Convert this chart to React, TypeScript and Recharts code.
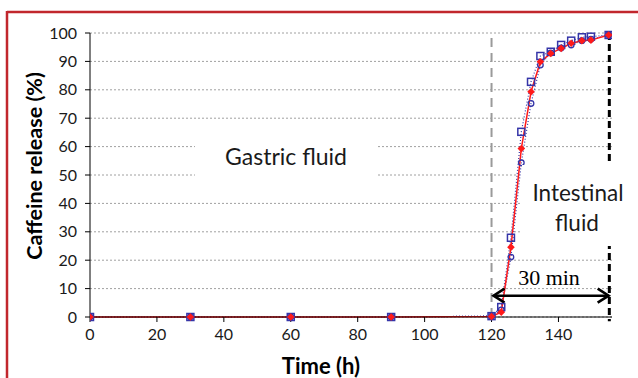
import React from 'react';
import { LineChart, Line, XAxis, YAxis, CartesianGrid, ReferenceLine } from 'recharts';

const timeH = [0, 30, 60, 90, 120, 122.9, 125.8, 128.9, 131.8, 134.6, 137.7, 140.8, 143.8, 147, 149.7, 155];
const releaseRed = [0, 0, 0, 0, 0.2, 1.7, 24.6, 59.3, 79.3, 89.9, 92.8, 94.6, 96.4, 97.3, 97.5, 99.3];
const releaseSquare = [0, 0, 0, 0, 0.3, 3.5, 27.9, 65.2, 82.8, 91.9, 93.4, 95.8, 97.3, 98.5, 98.7, 99.3];
const releaseCircle = [0, 0, 0, 0, 0.3, 2.5, 21.1, 54.3, 75.2, 88.7, 93.0, 94.7, 95.8, 97.3, 97.8, 99.3];
const xTicks = [0, 20, 40, 60, 80, 100, 120, 140];
const yTicks = [0, 10, 20, 30, 40, 50, 60, 70, 80, 90, 100];

const data = timeH.map((t, i) => ({ t, red: releaseRed[i], sq: releaseSquare[i], circ: releaseCircle[i] }));

const FONT = 'Lato, "Open Sans", sans-serif';
const BLUE = '#3535a8';

const SquareDot = (p: any) => {
  if (p.cx == null || p.cy == null) return null;
  return <rect x={p.cx - 3.5} y={p.cy - 3.5} width={7} height={7} fill="none" stroke={BLUE} strokeWidth={1.5} />;
};
const CircleDot = (p: any) => {
  if (p.cx == null || p.cy == null) return null;
  return <circle cx={p.cx} cy={p.cy} r={2.8} fill="none" stroke={BLUE} strokeWidth={1.3} />;
};
const DiamondDot = (p: any) => {
  if (p.cx == null || p.cy == null) return null;
  const s = 3.8;
  return <path d={`M${p.cx},${p.cy - s}L${p.cx + s},${p.cy}L${p.cx},${p.cy + s}L${p.cx - s},${p.cy}Z`} fill="#ff1a1a" />;
};

const ArrowShape = (p: any) => {
  const { x1, y1, x2, y2 } = p;
  if (x1 == null) return null;
  const h = 11, w = 7;
  return (
    <g stroke="#000" strokeWidth={2.6} fill="none">
      <line x1={x1} y1={y1} x2={x2} y2={y2} />
      <polyline points={`${x1 + h},${y1 - w} ${x1},${y1} ${x1 + h},${y1 + w}`} />
      <polyline points={`${x2 - h},${y2 - w} ${x2},${y2} ${x2 - h},${y2 + w}`} />
    </g>
  );
};

export default function App() {
  return (
    <div style={{ position: 'absolute', left: 0, top: 0, width: 638, height: 378, background: '#fff' }}>
      <LineChart width={638} height={378} data={data} margin={{ top: 33, right: 26, bottom: 31, left: 0 }}>
        <CartesianGrid vertical={false} stroke="#a0a0a0" strokeDasharray="2 2" />
        <XAxis
          type="number"
          dataKey="t"
          domain={[0, 156]}
          ticks={xTicks}
          height={30}
          tickSize={5}
          tickMargin={7}
          stroke="#000"
          tick={{ fill: '#1a1a1a', fontSize: 16, fontFamily: FONT }}
          allowDataOverflow
        />
        <YAxis
          type="number"
          domain={[0, 100]}
          ticks={yTicks}
          width={90}
          tickSize={5}
          tickMargin={8}
          stroke="#000"
          tick={{ fill: '#1a1a1a', fontSize: 16, fontFamily: FONT }}
          interval={0}
        />
        <ReferenceLine x={120} stroke="#9a9a9a" strokeWidth={2} strokeDasharray="9 6" />
        <ReferenceLine
          segment={[{ x: 155.2, y: 100 }, { x: 155.2, y: -1.5 }]}
          stroke="#000"
          strokeWidth={3}
          strokeDasharray="7 4"
          ifOverflow="visible"
        />
        <Line type="linear" dataKey="sq" stroke={BLUE} strokeWidth={1.2} strokeDasharray="1 2" dot={<SquareDot />} isAnimationActive={false} />
        <Line type="linear" dataKey="circ" stroke={BLUE} strokeWidth={1.2} strokeDasharray="1 2" dot={<CircleDot />} isAnimationActive={false} />
        <Line type="linear" dataKey="red" stroke="#ff1a1a" strokeWidth={1.5} dot={<DiamondDot />} isAnimationActive={false} />
        <ReferenceLine
          segment={[{ x: 120.6, y: 7.5 }, { x: 155, y: 7.5 }]}
          shape={<ArrowShape />}
          ifOverflow="visible"
        />
      </LineChart>
      <svg width={638} height={378} style={{ position: 'absolute', left: 0, top: 0, pointerEvents: 'none' }}>
        <line x1={7} y1={12} x2={638} y2={12} stroke="#c1272d" strokeWidth={2.5} />
        <line x1={7} y1={11} x2={7} y2={378} stroke="#c1272d" strokeWidth={2.5} />
        <rect x={195} y={125} width={182} height={70} fill="#fff" />
        <text x={286} y={165} textAnchor="middle" fontFamily={FONT} fontSize={23} fill="#1a1a1a">Gastric fluid</text>
        <rect x={522} y={165} width={116} height={81} fill="#fff" />
        <text x={578} y={201} textAnchor="middle" fontFamily={FONT} fontSize={22.5} fill="#1a1a1a">Intestinal</text>
        <text x={577} y={231} textAnchor="middle" fontFamily={FONT} fontSize={22.5} fill="#1a1a1a">fluid</text>
        <text x={549} y={285} textAnchor="middle" fontFamily='"Liberation Serif", "DejaVu Serif", serif' fontSize={22} fill="#000">30 min</text>
        <text x={321} y={374} textAnchor="middle" fontFamily={FONT} fontWeight="bold" fontSize={22} fill="#000">Time (h)</text>
        <text x={34} y={166} textAnchor="middle" dominantBaseline="central" transform="rotate(-90 34 166)" fontFamily={FONT} fontWeight="bold" fontSize={21.5} fill="#000">Caffeine release (%)</text>
      </svg>
    </div>
  );
}
